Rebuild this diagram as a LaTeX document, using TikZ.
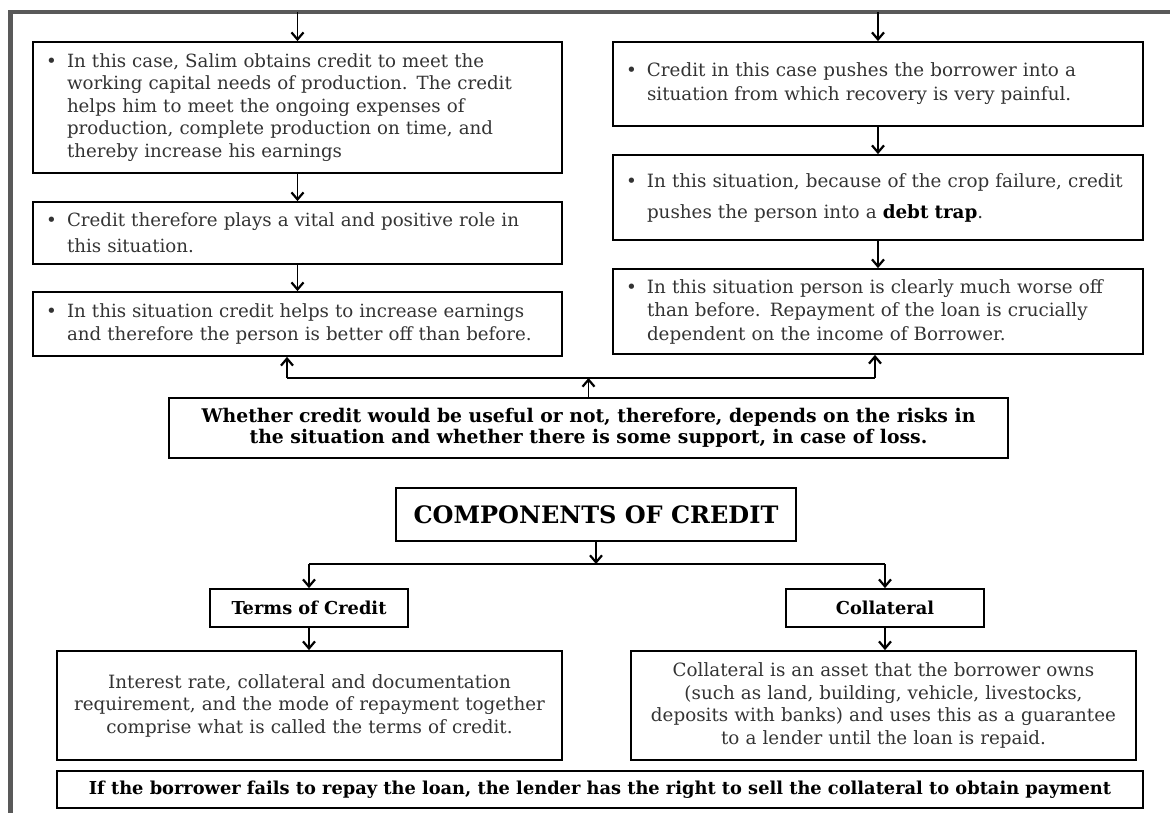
\documentclass[tikz,border=0pt]{standalone}
\usepackage{fontspec}
\setmainfont{DejaVu Serif}
\usetikzlibrary{arrows.meta}
\newcommand\mybul[1]{\makebox[21pt][l]{\textbullet}\parbox[t]{485pt}{#1}}
\begin{document}
\begin{tikzpicture}[x=1pt,y=-1pt,
  box/.style={draw=black, line width=1.8pt, inner sep=0pt, text=black!80},
  bul/.style={box, align=left, inner xsep=13pt, font=\fontsize{18.2}{22.5}\selectfont},
  desc/.style={box, align=center, font=\fontsize{18.3}{22.5}\selectfont},
  bold/.style={box, align=center, text=black, font=\bfseries\fontsize{18.8}{21}\selectfont},
  arr/.style={line width=1.9pt, -{Straight Barb[length=7pt,width=12pt,line width=2.2pt]}},
  con/.style={line width=1.9pt},
  frame/.style={line width=4.5pt, draw=black!65}
]
\useasboundingbox (0,0) rectangle (1170,813);
% outer frame
\coordinate (fTR) at (1170,12);
\coordinate (fTL) at (10.5,12);
\coordinate (fBL) at (10.5,813);
\draw[frame] (fTR) -- (fTL) -- (fBL);

% left column
\node[bul, minimum width=529pt, minimum height=131pt, text width=503pt] (L1) at (297.5,107.5)
 {\mybul{In this case, Salim obtains credit to meet the\\ working capital needs of production. The credit\\ helps him to meet the ongoing expenses of\\ production, complete production on time, and\\ thereby increase his earnings}};
\node[bul, minimum width=529pt, minimum height=62pt, text width=503pt, font=\fontsize{18.2}{26}\selectfont] (L2) at (297.5,233)
 {\mybul{Credit therefore plays a vital and positive role in\\ this situation.}};
\node[bul, minimum width=529pt, minimum height=64pt, text width=503pt, font=\fontsize{18.2}{23}\selectfont] (L3) at (297.5,324)
 {\mybul{In this situation credit helps to increase earnings\\ and therefore the person is better off than before.}};

% right column
\node[bul, minimum width=530pt, minimum height=84pt, text width=504pt, font=\fontsize{18.3}{24}\selectfont] (R1) at (878,84)
 {\mybul{Credit in this case pushes the borrower into a\\ situation from which recovery is very painful.}};
\node[bul, minimum width=530pt, minimum height=85pt, text width=504pt, font=\fontsize{18.3}{31}\selectfont] (R2) at (878,197.5)
 {\mybul{In this situation, because of the crop failure, credit\\ pushes the person into a \textbf{\color{black}debt trap}.}};
\node[bul, minimum width=530pt, minimum height=85pt, text width=504pt, font=\fontsize{18.3}{23.5}\selectfont] (R3) at (878,311.5)
 {\mybul{In this situation person is clearly much worse off\\ than before. Repayment of the loan is crucially\\ dependent on the income of Borrower.}};

% top arrows
\draw[arr] (L1.north |- fTL) -- (L1.north);
\draw[arr] (R1.north |- fTL) -- (R1.north);
\draw[arr] (L1.south) -- (L2.north);
\draw[arr] (L2.south) -- (L3.north);
\draw[arr] (R1.south) -- (R2.north);
\draw[arr] (R2.south) -- (R3.north);

% summary box
\node[bold, minimum width=839pt, minimum height=60pt, line width=2.6pt] (M) at (588.5,428)
 {Whether credit would be useful or not, therefore, depends on the risks in\\ the situation and whether there is some support, in case of loss.};
\coordinate (jL) at (287,378);
\coordinate (jR) at (875,378);
\draw[con] (jL) -- (jR);
\draw[arr] (jL) -- (jL |- L3.south);
\draw[arr] (jR) -- (jR |- R3.south);
\draw[arr] (M.north) -- (M.north |- jL);

% components
\node[bold, minimum width=400pt, minimum height=53pt, line width=2.4pt, font=\bfseries\fontsize{24}{28}\selectfont] (C) at (596,514.5) {COMPONENTS OF CREDIT};
\node[bold, minimum width=198pt, minimum height=38pt, font=\bfseries\fontsize{17.8}{21}\selectfont] (T) at (309,608) {Terms of Credit};
\node[bold, minimum width=198pt, minimum height=38pt, font=\bfseries\fontsize{17.8}{21}\selectfont] (K) at (885,608) {Collateral};
\coordinate (split) at (596,564);
\draw[arr] (C.south) -- (split);
\draw[con] (T.north |- split) -- (K.north |- split);
\draw[arr] (T.north |- split) -- (T.north);
\draw[arr] (K.north |- split) -- (K.north);

\node[desc, minimum width=505pt, minimum height=109pt, text width=490pt] (TD) at (309.5,705.5)
 {Interest rate, collateral and documentation\\ requirement, and the mode of repayment together\\ comprise what is called the terms of credit.};
\node[desc, minimum width=505pt, minimum height=109pt, text width=490pt] (KD) at (883.5,705.5)
 {Collateral is an asset that the borrower owns\\ (such as land, building, vehicle, livestocks,\\ deposits with banks) and uses this as a guarantee\\ to a lender until the loan is repaid.};
\draw[arr] (T.south) -- (T.south |- TD.north);
\draw[arr] (K.south) -- (K.south |- KD.north);

\node[bold, minimum width=1086pt, minimum height=37pt, line width=2.2pt, font=\bfseries\fontsize{17.8}{20}\selectfont] (B) at (600,789.5)
 {If the borrower fails to repay the loan, the lender has the right to sell the collateral to obtain payment};
\end{tikzpicture}
\end{document}
